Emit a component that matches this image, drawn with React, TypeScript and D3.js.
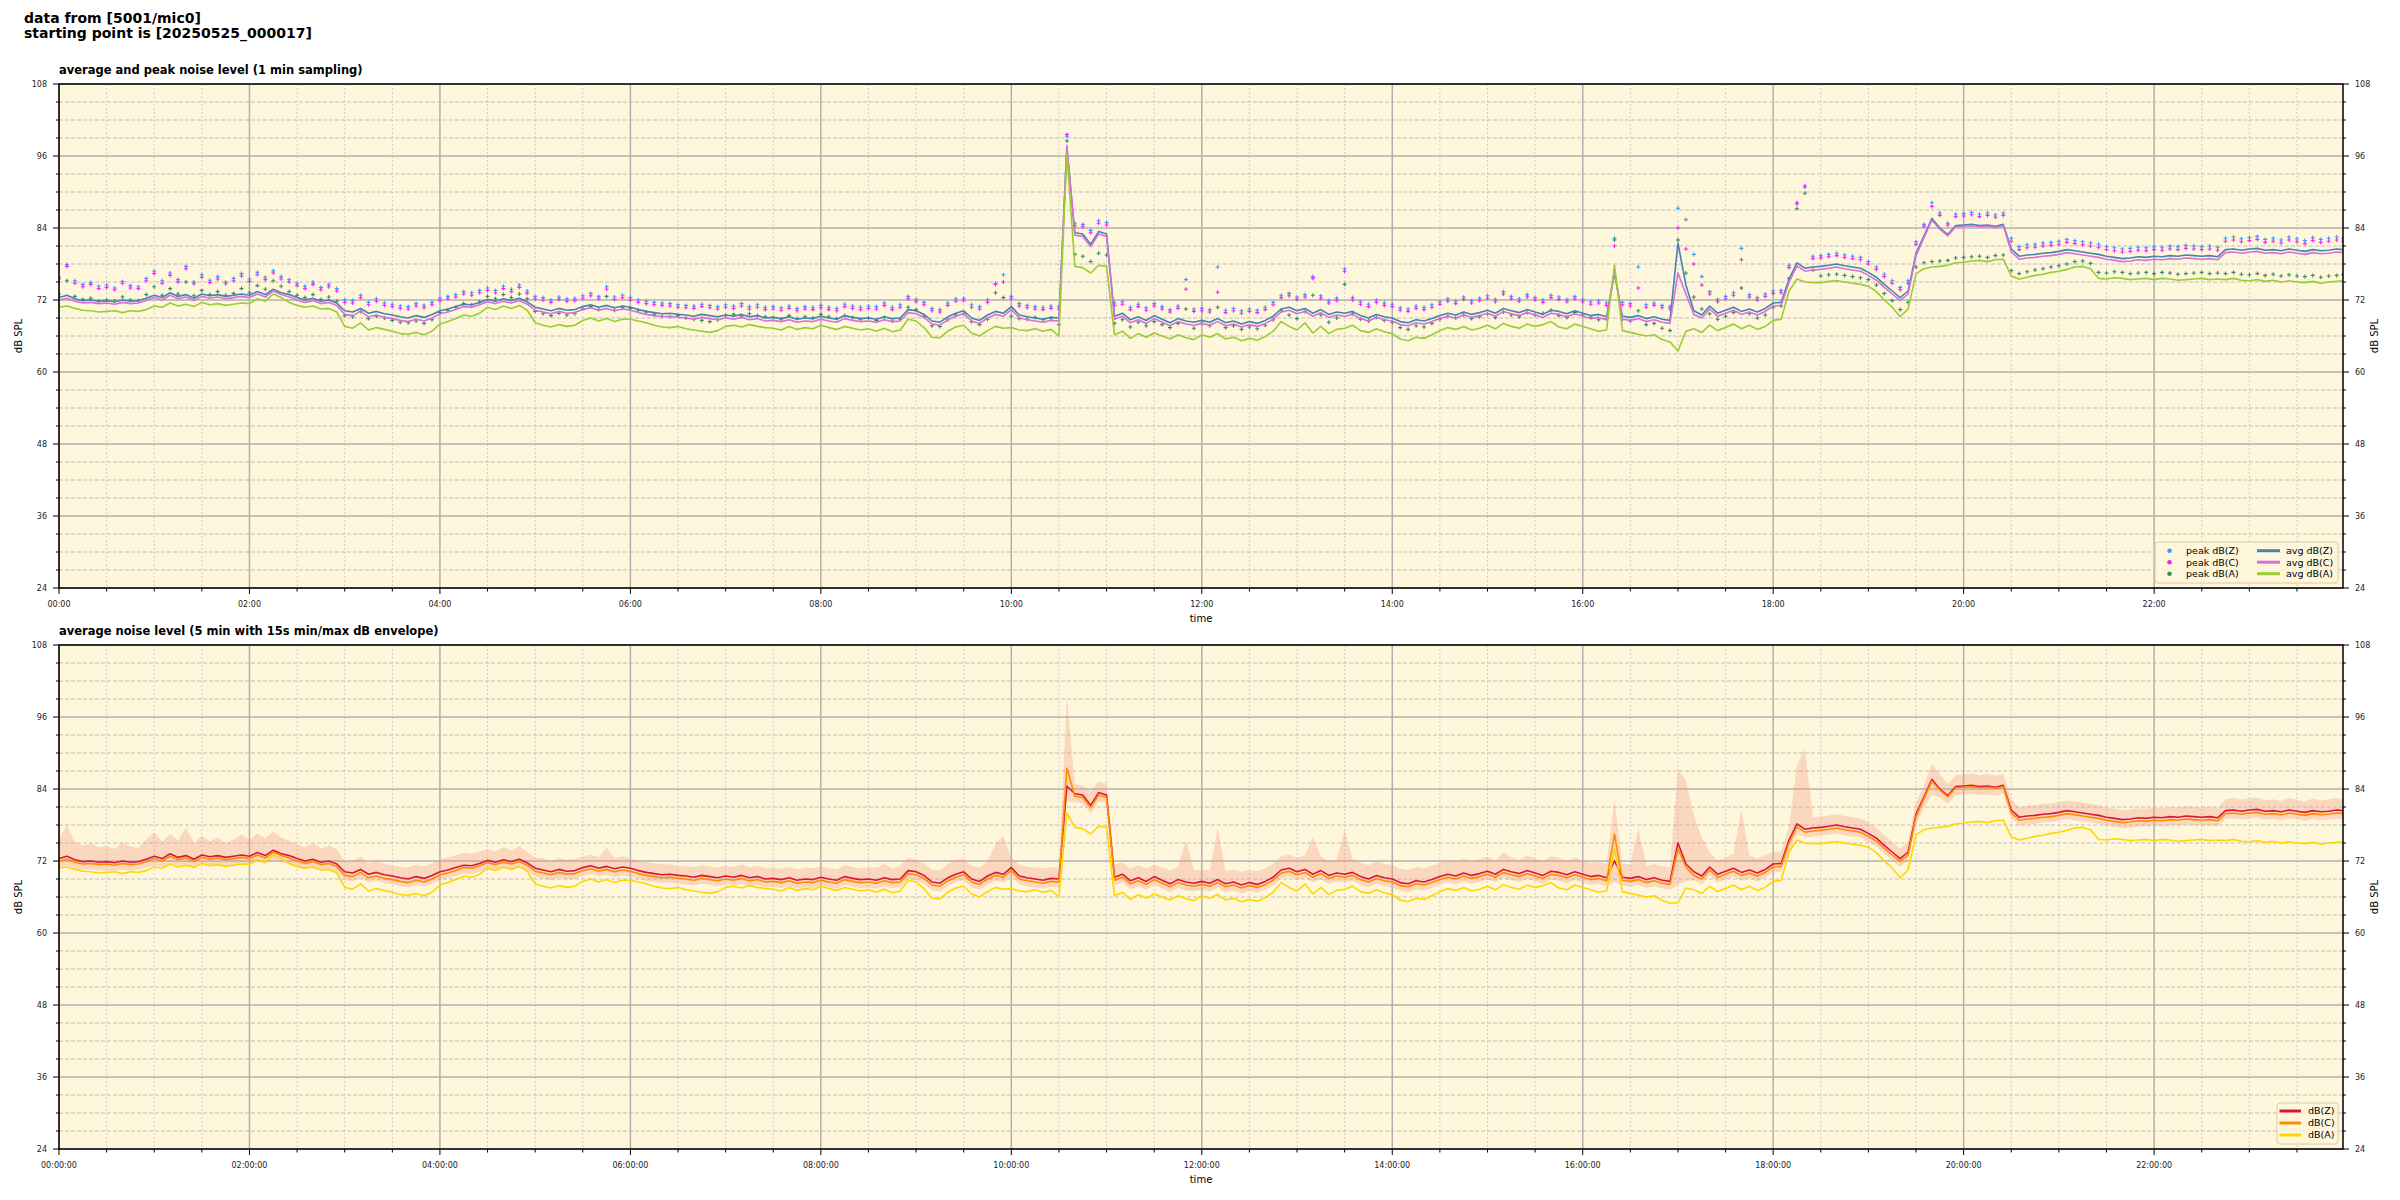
import React from 'react';
import * as d3 from 'd3';

// ---- data: 5-minute samples from 00:00 to 23:55, plus a final sample at 23:59 ----
const avgZ = [
72.4,72.8,72.2,71.9,72.0,71.8, 71.9,71.7,72.0,71.8,71.9,72.3,
72.8,72.4,73.2,72.6,72.9,72.3, 73.0,72.7,72.9,72.6,72.8,73.0,
72.8,73.4,72.9,73.8,73.2,72.9, 72.4,72.0,72.3,71.8,72.0,71.5,
70.2,70.0,70.6,69.8,70.1,69.7, 69.5,69.2,69.0,69.4,69.1,69.6,
70.2,70.5,70.9,71.3,71.2,71.6, 72.1,71.8,72.2,71.9,72.3,71.7,
70.8,70.5,70.2,70.6,70.3,70.4, 70.9,71.2,70.8,71.1,70.7,71.0,
70.8,70.4,70.1,69.9,69.7,69.8, 69.6,69.5,69.3,69.6,69.4,69.2,
69.5,69.3,69.6,69.2,69.4,69.0, 69.1,68.9,69.2,68.8,69.0,68.9,
69.3,69.0,68.8,69.4,69.1,68.9, 69.0,68.8,69.2,68.9,69.0,70.4,
70.2,69.6,68.5,68.3,69.2,69.8, 70.2,69.0,68.6,69.5,70.1,69.8,
70.9,69.5,69.2,69.0,68.8,69.1, 69.0,97.5,83.2,83.0,81.3,83.4,
83.0,69.3,69.8,68.7,69.2,68.6, 69.4,68.8,68.2,68.9,68.5,68.3,
68.6,68.3,68.9,68.2,68.5,68.0, 68.4,68.1,68.6,69.3,70.5,70.8,
70.2,70.6,69.8,70.4,69.6,70.0, 69.8,70.1,69.4,69.0,69.6,69.2,
69.0,68.4,68.2,68.7,68.5,68.9, 69.4,69.8,69.5,70.0,69.6,69.9,
70.3,69.8,70.6,70.2,69.9,70.4, 70.0,69.6,70.3,70.1,69.7,70.2,
69.8,69.4,69.6,69.2,76.5,69.3, 69.1,69.4,68.9,69.2,68.8,68.6,
81.5,74.5,70.2,69.5,71.0,69.8, 70.3,70.8,70.1,70.5,70.0,70.6,
71.5,71.6,75.5,78.2,77.3,77.5, 77.6,77.8,78.0,77.7,77.5,77.3,
76.6,75.8,74.6,73.5,72.4,73.5, 79.8,82.7,85.6,84.0,82.9,84.4,
84.5,84.6,84.4,84.5,84.3,84.6, 80.5,79.3,79.5,79.6,79.8,79.9,
80.1,80.4,80.2,80.0,79.8,79.6, 79.3,79.1,78.9,79.0,79.2,79.1,
79.3,79.2,79.4,79.3,79.5,79.4, 79.3,79.4,79.2,80.4,80.5,80.3,
80.5,80.6,80.3,80.4,80.2,80.5, 80.3,80.1,80.4,80.2,80.3,80.5,
80.4,
];

const avgC = [
72.0,72.3,71.8,71.5,71.6,71.4, 71.5,71.3,71.6,71.4,71.5,71.9,
72.4,72.0,72.8,72.2,72.5,71.9, 72.6,72.3,72.5,72.2,72.4,72.6,
72.4,73.0,72.5,73.5,72.9,72.5, 72.0,71.6,71.9,71.4,71.6,71.1,
69.6,69.4,70.1,69.2,69.5,69.1, 68.9,68.6,68.4,68.8,68.5,69.0,
69.7,70.0,70.4,70.9,70.8,71.2, 71.7,71.4,71.8,71.5,71.9,71.3,
70.3,70.0,69.7,70.1,69.8,69.9, 70.4,70.7,70.3,70.6,70.2,70.5,
70.3,69.9,69.6,69.4,69.2,69.3, 69.1,69.0,68.8,69.1,68.9,68.7,
69.0,68.8,69.1,68.7,68.9,68.5, 68.6,68.4,68.7,68.3,68.5,68.4,
68.8,68.5,68.3,68.9,68.6,68.4, 68.5,68.3,68.7,68.4,68.5,69.9,
69.7,69.1,68.0,67.8,68.7,69.3, 69.7,68.5,68.1,69.0,69.6,69.3,
70.4,69.0,68.7,68.5,68.3,68.6, 68.5,97.8,82.8,82.6,80.9,83.0,
82.6,68.8,69.3,68.2,68.7,68.1, 68.9,68.3,67.7,68.4,68.0,67.8,
68.1,67.8,68.4,67.7,68.0,67.5, 67.9,67.6,68.1,68.8,70.0,70.3,
69.7,70.1,69.3,69.9,69.1,69.5, 69.3,69.6,68.9,68.5,69.1,68.7,
68.5,67.9,67.7,68.2,68.0,68.4, 68.9,69.3,69.0,69.5,69.1,69.4,
69.8,69.3,70.1,69.7,69.4,69.9, 69.5,69.1,69.8,69.6,69.2,69.7,
69.3,68.9,69.1,68.7,77.0,68.8, 68.6,68.9,68.4,68.7,68.3,68.1,
76.5,73.0,69.6,69.0,70.5,69.3, 69.8,70.3,69.6,70.0,69.5,70.1,
71.0,71.1,75.0,77.7,76.8,77.0, 77.1,77.3,77.5,77.2,77.0,76.8,
76.1,75.3,74.1,73.0,71.9,73.0, 79.4,82.4,85.3,83.8,82.7,84.2,
84.3,84.4,84.2,84.3,84.1,84.4, 80.0,78.8,79.0,79.1,79.3,79.4,
79.6,79.9,79.7,79.5,79.3,79.1, 78.8,78.6,78.4,78.5,78.7,78.6,
78.8,78.7,78.9,78.8,79.0,78.9, 78.8,78.9,78.7,79.9,80.0,79.8,
80.0,80.1,79.8,79.9,79.7,80.0, 79.8,79.6,79.9,79.7,79.8,80.0,
79.9,
];

const avgA = [
70.8,71.0,70.6,70.3,70.2,70.0, 70.1,70.2,69.9,70.2,70.1,70.4,
71.0,70.8,71.5,71.0,71.3,70.9, 71.6,71.2,71.4,71.1,71.3,71.5,
71.4,72.2,71.8,73.0,72.4,71.6, 71.1,70.8,71.0,70.5,70.6,70.0,
67.6,67.3,68.2,67.0,67.4,67.1, 66.8,66.4,66.3,66.6,66.2,66.8,
68.0,68.4,68.9,69.5,69.3,69.8, 70.8,70.4,71.0,70.6,71.1,70.3,
68.2,67.8,67.5,67.9,67.6,67.8, 68.6,69.0,68.5,68.9,68.4,68.8,
68.8,68.5,68.2,67.8,67.5,67.4, 67.6,67.2,67.0,66.8,66.6,66.9,
67.6,67.8,67.5,67.9,67.6,67.4, 67.3,67.0,67.6,67.1,67.4,67.2,
67.8,67.4,67.1,67.6,67.3,67.0, 67.2,66.8,67.3,66.7,67.0,68.8,
68.5,67.4,65.8,65.7,66.8,67.5, 67.8,66.5,66.0,66.9,67.6,67.3,
67.4,67.0,66.9,67.2,66.8,67.1, 66.0,96.5,77.6,77.4,76.5,77.8,
77.6,66.2,66.8,65.6,66.4,65.8, 66.5,66.0,65.5,66.2,65.7,65.4,
66.2,65.8,66.4,65.5,65.8,65.2, 65.6,65.3,65.9,66.8,68.4,67.6,
67.0,68.2,66.5,67.6,66.4,67.1, 67.3,67.8,66.9,66.6,67.2,66.7,
66.4,65.5,65.2,65.8,65.6,66.2, 66.9,67.4,67.1,67.6,67.0,67.3,
67.8,67.2,68.1,67.6,67.3,68.0, 67.6,67.9,68.4,67.5,67.2,68.0,
67.6,67.2,66.8,67.0,77.8,66.9, 66.6,66.3,66.0,66.2,65.4,65.0,
63.5,66.8,67.2,66.6,67.8,66.9, 67.4,68.0,67.2,67.8,67.1,67.6,
68.6,68.8,73.5,75.5,75.0,74.9, 74.9,75.1,75.2,75.0,74.8,74.6,
74.3,73.4,72.0,70.8,69.2,70.5, 76.4,77.2,77.5,77.6,77.8,78.2,
78.3,78.5,78.6,78.4,78.7,78.8, 76.0,75.5,75.8,76.1,76.3,76.6,
76.8,77.1,77.5,77.6,77.2,75.6, 75.5,75.7,75.6,75.4,75.5,75.6,
75.4,75.6,75.5,75.3,75.4,75.5, 75.6,75.4,75.5,75.4,75.6,75.3,
75.2,75.4,75.1,75.3,75.0,75.2, 75.0,74.9,75.1,74.8,75.0,75.1,
75.2,
];

const peakZ = [
75.8,77.9,75.2,74.6,74.9,74.3, 74.5,74.0,75.1,74.4,74.2,75.6,
76.8,75.2,76.5,75.4,77.6,75.0, 76.2,75.3,75.9,75.0,75.6,76.4,
75.5,76.6,75.8,76.9,75.9,75.4, 74.8,74.3,75.0,74.1,74.6,73.9,
72.0,71.9,72.8,71.6,72.2,71.5, 71.3,71.0,70.9,71.4,71.1,71.6,
72.3,72.6,72.9,73.4,73.2,73.6, 74.0,73.6,74.3,73.8,74.5,73.5,
72.6,72.4,72.0,72.5,72.2,72.3, 72.7,73.1,72.6,74.2,72.5,72.8,
72.4,72.0,71.8,71.6,71.5,71.4, 71.2,71.1,71.0,71.3,71.1,70.9,
71.2,71.0,71.4,70.9,71.2,70.8, 70.9,70.7,71.0,70.6,70.9,70.8,
71.1,70.8,70.6,71.3,71.0,70.8, 71.0,70.9,71.5,70.8,71.2,72.6,
72.1,71.6,70.6,70.4,71.5,72.2, 72.3,71.2,70.9,72.0,74.8,76.2,
72.6,71.4,71.1,70.9,70.8,71.0, 70.9,99.3,84.8,84.6,83.6,85.2,
84.9,71.5,71.7,70.8,71.3,70.7, 71.4,70.9,70.4,71.0,75.4,70.5,
70.6,70.4,77.5,70.3,70.6,70.2, 70.5,70.3,70.8,71.6,72.8,73.1,
72.5,72.9,75.9,72.7,71.9,72.3, 77.2,72.4,71.7,71.3,72.0,71.5,
71.3,70.7,70.5,71.0,70.8,71.2, 71.7,72.2,71.8,72.5,71.9,72.3,
72.7,72.1,73.4,72.6,72.2,72.9, 72.4,72.0,72.8,72.5,72.1,72.6,
72.1,71.7,71.9,71.5,82.3,71.6, 71.4,77.5,71.2,71.5,71.1,70.9,
87.3,85.4,79.6,75.9,73.4,72.1, 72.6,73.2,80.6,72.9,72.4,73.0,
73.5,73.6,77.8,88.0,90.8,79.3, 79.4,79.6,79.8,79.5,79.3,79.1,
78.4,77.5,76.3,75.2,74.1,75.2, 81.7,84.6,88.2,86.5,84.8,86.3,
86.4,86.6,86.3,86.5,86.2,86.5, 82.3,80.9,81.2,81.3,81.5,81.6,
81.8,82.1,81.9,81.7,81.5,81.3, 80.9,80.7,80.5,80.6,80.8,80.7,
80.9,80.8,81.0,80.9,81.1,81.0, 80.9,81.0,80.8,82.3,82.5,82.2,
82.4,82.6,82.1,82.3,82.0,82.5, 82.2,81.9,82.4,82.1,82.3,82.5,
82.3,
];

const peakC = [
75.5,77.6,74.8,74.2,74.6,73.9, 74.1,73.7,74.8,74.0,73.9,75.2,
76.4,74.8,76.1,75.0,77.2,74.7, 75.8,74.9,75.5,74.7,75.2,76.0,
75.1,76.2,75.4,76.5,75.5,75.0, 74.4,73.9,74.6,73.7,74.2,73.5,
71.6,71.5,72.4,71.2,71.8,71.1, 70.9,70.6,70.5,71.0,70.7,71.2,
71.9,72.2,72.5,73.0,72.8,73.2, 73.6,73.2,73.9,73.4,74.1,73.1,
72.2,72.0,71.6,72.1,71.8,71.9, 72.3,72.7,72.2,73.8,72.1,72.4,
72.0,71.6,71.4,71.2,71.1,71.0, 70.8,70.7,70.6,70.9,70.7,70.5,
70.8,70.6,71.0,70.5,70.8,70.4, 70.5,70.3,70.6,70.2,70.5,70.4,
70.7,70.4,70.2,70.9,70.6,70.4, 70.6,70.5,71.1,70.4,70.8,72.2,
71.7,71.2,70.2,70.0,71.1,71.8, 71.9,70.8,70.5,71.6,74.6,75.0,
72.2,71.0,70.7,70.5,70.4,70.6, 70.5,99.6,84.4,84.2,83.2,84.8,
84.5,71.1,71.3,70.4,70.9,70.3, 71.0,70.5,70.0,70.6,73.8,70.1,
70.2,70.0,73.3,69.9,70.2,69.8, 70.1,69.9,70.4,71.2,72.4,72.7,
72.1,72.5,75.6,72.3,71.5,71.9, 76.8,72.0,71.3,70.9,71.6,71.1,
70.9,70.3,70.1,70.6,70.4,70.8, 71.3,71.8,71.4,72.1,71.5,71.9,
72.3,71.7,73.0,72.2,71.8,72.5, 72.0,71.6,72.4,72.1,71.7,72.2,
71.7,71.3,71.5,71.1,81.0,71.2, 71.0,74.0,70.8,71.1,70.7,70.5,
84.0,80.5,78.0,74.5,73.0,71.7, 72.2,72.8,78.7,72.5,72.0,72.6,
73.1,73.2,77.4,88.2,91.0,78.9, 79.0,79.2,79.4,79.1,78.9,78.7,
78.0,77.1,75.9,74.8,73.7,74.8, 81.3,84.3,87.6,86.1,84.5,85.9,
86.0,86.2,85.9,86.1,85.8,86.1, 81.8,80.4,80.7,80.8,81.0,81.1,
81.3,81.6,81.4,81.2,81.0,80.8, 80.4,80.2,80.0,80.1,80.3,80.2,
80.4,80.3,80.5,80.4,80.6,80.5, 80.4,80.5,80.3,81.8,82.0,81.7,
81.9,82.1,81.6,81.8,81.5,82.0, 81.7,81.4,81.9,81.6,81.8,82.0,
81.8,
];

const peakA = [
73.0,75.2,72.6,72.1,72.3,71.8, 72.0,71.8,72.5,72.0,71.9,72.9,
74.2,72.8,73.9,73.0,75.0,72.7, 73.6,72.9,73.4,72.8,73.1,73.9,
73.2,74.4,73.8,75.2,74.3,73.4, 72.8,72.4,72.9,72.1,72.5,71.8,
69.4,69.2,70.1,68.9,69.3,69.0, 68.6,68.3,68.2,68.5,68.1,68.7,
69.9,70.3,70.8,71.4,71.2,71.7, 72.6,72.2,72.9,72.4,73.0,72.2,
70.1,69.7,69.4,69.8,69.5,69.7, 70.5,70.9,70.4,72.6,70.3,70.7,
70.6,70.3,70.0,69.6,69.3,69.2, 69.4,69.0,68.8,68.6,68.4,68.7,
69.4,69.6,69.3,69.7,69.4,69.2, 69.1,68.8,69.4,68.9,69.2,69.0,
69.6,69.2,68.9,69.4,69.1,68.8, 69.0,68.6,69.1,68.5,68.8,70.8,
70.4,69.3,67.7,67.6,68.7,69.5, 69.7,68.4,67.9,68.8,73.2,72.4,
69.3,68.9,68.8,69.1,68.7,69.0, 67.9,98.5,79.6,79.3,78.4,79.8,
79.5,68.1,68.7,67.5,68.3,67.7, 68.4,67.9,67.4,68.1,70.5,67.3,
68.1,67.7,70.8,67.4,67.7,67.1, 67.5,67.2,67.8,68.7,70.3,69.5,
68.9,70.1,72.8,69.5,68.3,69.0, 74.6,69.7,68.8,68.5,69.1,68.6,
68.3,67.4,67.1,67.7,67.5,68.1, 68.8,69.3,69.0,69.5,68.9,69.2,
69.7,69.1,70.0,69.5,69.2,69.9, 69.5,69.8,70.3,69.4,69.1,69.9,
69.5,69.1,68.7,68.9,82.0,68.8, 68.5,70.2,67.9,68.1,67.3,66.9,
82.0,76.5,72.5,70.5,69.7,68.8, 69.3,69.9,74.0,69.7,69.0,69.5,
70.8,71.0,75.6,87.2,89.8,77.0, 76.0,76.2,76.3,76.1,75.9,75.7,
75.4,74.5,73.1,71.9,70.4,71.6, 77.5,78.2,78.4,78.5,78.6,79.0,
79.1,79.2,79.3,79.1,79.4,79.5, 76.9,76.4,76.7,77.0,77.2,77.5,
77.7,78.0,78.4,78.5,78.1,76.6, 76.5,76.7,76.6,76.4,76.5,76.6,
76.4,76.6,76.5,76.3,76.4,76.5, 76.6,76.4,76.5,76.4,76.6,76.3,
76.2,76.4,76.1,76.3,76.0,76.2, 76.0,75.9,76.1,75.8,76.0,76.1,
76.2,
];

// 15 s minimum of dB(Z) (lower edge of the envelope in the 5-min panel)
const envLo = [
70.9,71.2,70.8,70.5,70.6,70.4, 70.5,70.3,70.6,70.4,70.5,70.9,
71.3,71.0,71.7,71.2,71.4,70.9, 71.6,71.3,71.5,71.2,71.4,71.6,
71.4,71.9,71.5,72.3,71.8,71.5, 71.0,70.7,70.9,70.4,70.6,70.1,
68.8,68.6,69.2,68.4,68.7,68.3, 68.1,67.8,67.6,68.0,67.7,68.2,
68.8,69.1,69.5,69.9,69.8,70.2, 70.7,70.4,70.8,70.5,70.9,70.3,
69.4,69.1,68.8,69.2,68.9,69.0, 69.5,69.8,69.4,69.7,69.3,69.6,
69.4,69.0,68.7,68.5,68.3,68.4, 68.2,68.1,67.9,68.2,68.0,67.8,
68.1,67.9,68.2,67.8,68.0,67.6, 67.7,67.5,67.8,67.4,67.6,67.5,
67.9,67.6,67.4,68.0,67.7,67.5, 67.6,67.4,67.8,67.5,67.6,69.0,
68.8,68.2,67.1,66.9,67.8,68.4, 68.8,67.6,67.2,68.1,68.7,68.4,
69.5,68.1,67.8,67.6,67.4,67.7, 67.6,82.0,81.8,81.6,79.9,82.0,
81.6,67.9,68.4,67.3,67.8,67.2, 68.0,67.4,66.8,67.5,67.1,66.9,
67.2,66.9,67.5,66.8,67.1,66.6, 67.0,66.7,67.2,67.9,69.1,69.4,
68.8,69.2,68.4,69.0,68.2,68.6, 68.4,68.7,68.0,67.6,68.2,67.8,
67.6,67.0,66.8,67.3,67.1,67.5, 68.0,68.4,68.1,68.6,68.2,68.5,
68.9,68.4,69.2,68.8,68.5,69.0, 68.6,68.2,68.9,68.7,68.3,68.8,
68.4,68.0,68.2,67.8,68.5,67.9, 67.7,68.0,67.5,67.8,67.4,67.2,
68.0,68.6,68.8,68.1,69.6,68.4, 68.9,69.4,68.7,69.1,68.6,69.2,
70.1,70.2,73.5,76.6,75.9,76.1, 76.2,76.4,76.6,76.3,76.1,75.9,
75.2,74.4,73.2,72.1,71.0,72.1, 78.0,81.0,83.0,82.6,81.5,83.0,
83.1,83.2,83.0,83.1,82.9,83.2, 79.1,77.9,78.1,78.2,78.4,78.5,
78.7,79.0,78.8,78.6,78.4,78.2, 77.9,77.7,77.5,77.6,77.8,77.7,
77.9,77.8,78.0,77.9,78.1,78.0, 77.9,78.0,77.8,79.0,79.1,78.9,
79.1,79.2,78.9,79.0,78.8,79.1, 78.9,78.7,79.0,78.8,78.9,79.1,
79.0,
];

// 5-min averaged lines differ from the 1-min ones only around short spikes
const spikeIdx5 = [127, 196, 204, 205];
const spikeZ5 = [84.5, 72.0, 75.0, 71.5];
const spikeC5 = [87.5, 76.5, 74.0, 71.0];
const spikeA5 = [80.0, 74.0, 65.0, 67.5];

const yMajorTicks = [24, 36, 48, 60, 72, 84, 96, 108];
const xMajorHours = [0, 2, 4, 6, 8, 10, 12, 14, 16, 18, 20, 22];

const topTitle = 'average and peak noise level (1 min sampling)';
const bottomTitle = 'average noise level (5 min with 15s min/max dB envelope)';

// ---- layout ----
const W = 2400, H = 1200;
const LEFT = 59, RIGHT = 2343;
const FONT = 'DejaVu Sans, Liberation Sans, sans-serif';
const FACE = '#fff7dc';

const minuteOf = (i: number) => Math.min(i * 5, 1439);
const pad2 = (n: number) => (n < 10 ? '0' : '') + n;

function withSpikes(base: number[], vals: number[]) {
  const out = base.slice();
  spikeIdx5.forEach((idx, k) => { out[idx] = vals[k]; });
  return out;
}

function Panel(props: {
  top: number; bottom: number; title: string; longTime: boolean;
  children: (x: d3.ScaleLinear<number, number>, y: d3.ScaleLinear<number, number>) => React.ReactNode;
  legend: React.ReactNode;
}) {
  const { top, bottom, title, longTime } = props;
  const x = d3.scaleLinear().domain([0, 1439]).range([LEFT, RIGHT]);
  const y = d3.scaleLinear().domain([24, 108]).range([bottom, top]);
  const yMinor = d3.range(24, 108.1, 3).filter((v) => v % 12 !== 0);
  const xMinor = d3.range(0, 1440, 30).filter((m) => m % 120 !== 0);
  const clipId = 'clip' + top;
  return (
    <g>
      <defs>
        <clipPath id={clipId}>
          <rect x={LEFT} y={top} width={RIGHT - LEFT} height={bottom - top} />
        </clipPath>
      </defs>
      <rect x={LEFT} y={top} width={RIGHT - LEFT} height={bottom - top} fill={FACE} />
      {xMinor.map((m) => (
        <line key={'xm' + m} x1={x(m)} x2={x(m)} y1={top} y2={bottom} stroke="#cfcfcf" strokeWidth={1} strokeDasharray="2 2" />
      ))}
      {yMinor.map((v) => (
        <line key={'ym' + v} x1={LEFT} x2={RIGHT} y1={y(v)} y2={y(v)} stroke="#bdbdbd" strokeWidth={1} strokeDasharray="4 2" />
      ))}
      {xMajorHours.map((h) => (
        <line key={'xM' + h} x1={x(h * 60)} x2={x(h * 60)} y1={top} y2={bottom} stroke="#b0b0b0" strokeWidth={1.5} />
      ))}
      {yMajorTicks.map((v) => (
        <line key={'yM' + v} x1={LEFT} x2={RIGHT} y1={y(v)} y2={y(v)} stroke="#b0b0b0" strokeWidth={1.5} />
      ))}
      <g clipPath={`url(#${clipId})`}>{props.children(x, y)}</g>
      <rect x={LEFT} y={top} width={RIGHT - LEFT} height={bottom - top} fill="none" stroke="#000" strokeWidth={1.5} />
      {yMajorTicks.map((v) => (
        <g key={'yt' + v}>
          <line x1={LEFT - 6} x2={LEFT} y1={y(v)} y2={y(v)} stroke="#000" strokeWidth={1} />
          <line x1={RIGHT} x2={RIGHT + 6} y1={y(v)} y2={y(v)} stroke="#000" strokeWidth={1} />
          <text x={LEFT - 12} y={y(v)} dy="0.32em" textAnchor="end" fontSize={8} fontFamily={FONT} fill="#222">{v}</text>
          <text x={RIGHT + 12} y={y(v)} dy="0.32em" textAnchor="start" fontSize={8} fontFamily={FONT} fill="#222">{v}</text>
        </g>
      ))}
      {yMinor.map((v) => (
        <g key={'ytm' + v}>
          <line x1={LEFT - 3} x2={LEFT} y1={y(v)} y2={y(v)} stroke="#000" strokeWidth={1} />
          <line x1={RIGHT} x2={RIGHT + 3} y1={y(v)} y2={y(v)} stroke="#000" strokeWidth={1} />
        </g>
      ))}
      {xMajorHours.map((h) => (
        <g key={'xt' + h}>
          <line x1={x(h * 60)} x2={x(h * 60)} y1={bottom} y2={bottom + 6} stroke="#000" strokeWidth={1} />
          <text x={x(h * 60)} y={bottom + 19} textAnchor="middle" fontSize={8} fontFamily={FONT} fill="#222">
            {pad2(h) + ':00' + (longTime ? ':00' : '')}
          </text>
        </g>
      ))}
      {xMinor.map((m) => (
        <line key={'xtm' + m} x1={x(m)} x2={x(m)} y1={bottom} y2={bottom + 3.5} stroke="#000" strokeWidth={1} />
      ))}
      <text x={(LEFT + RIGHT) / 2} y={bottom + 34} textAnchor="middle" fontSize={10} fontFamily={FONT}>time</text>
      <text transform={`translate(22,${(top + bottom) / 2}) rotate(-90)`} textAnchor="middle" fontSize={10} fontFamily={FONT}>dB SPL</text>
      <text transform={`translate(2378,${(top + bottom) / 2}) rotate(-90)`} textAnchor="middle" fontSize={10} fontFamily={FONT}>dB SPL</text>
      <text x={LEFT} y={top - 10} fontSize={11.5} fontWeight="bold" fontFamily={FONT}>{title}</text>
      {props.legend}
    </g>
  );
}

function plusPath(xs: number[], ys: number[]) {
  let p = '';
  for (let i = 0; i < xs.length; i++) {
    const a = xs[i], b = ys[i];
    p += `M${(a - 2).toFixed(1)},${b.toFixed(1)}h4M${a.toFixed(1)},${(b - 2).toFixed(1)}v4`;
  }
  return p;
}

export default function App() {
  React.useEffect(() => {
    document.body.style.margin = '0';
  }, []);

  const top1 = 84, bot1 = 588, top2 = 645, bot2 = 1149;

  const lineOf = (x: d3.ScaleLinear<number, number>, y: d3.ScaleLinear<number, number>, vals: number[]) =>
    d3.line<number>().x((_, i) => x(minuteOf(i))).y((v) => y(v))(vals) || '';

  const peaks = [
    { vals: peakZ, color: '#3a9cff' },
    { vals: peakC, color: '#ff1fff' },
    { vals: peakA, color: '#3a8c5c' },
  ];
  const avgs = [
    { vals: avgZ, color: '#4682b4' },
    { vals: avgC, color: '#da70d6' },
    { vals: avgA, color: '#9acd32' },
  ];

  const line5Z = withSpikes(avgZ, spikeZ5);
  const line5C = withSpikes(avgC, spikeC5);
  const line5A = withSpikes(avgA, spikeA5);

  const legend1 = (
    <g fontFamily={FONT} fontSize={9.5}>
      <rect x={2155} y={542} width={183} height={41} rx={3} fill="#fff7dc" fillOpacity={0.85} stroke="#dcc9a6" strokeWidth={1} />
      {[
        { t: 'peak dB(Z)', c: '#3a9cff' },
        { t: 'peak dB(C)', c: '#ff1fff' },
        { t: 'peak dB(A)', c: '#3a8c5c' },
      ].map((e, i) => (
        <g key={e.t}>
          <circle cx={2169.5} cy={550.7 + i * 11.5} r={2.3} fill={e.c} />
          <text x={2186} y={550.7 + i * 11.5} dy="0.35em">{e.t}</text>
        </g>
      ))}
      {[
        { t: 'avg dB(Z)', c: '#4682b4' },
        { t: 'avg dB(C)', c: '#da70d6' },
        { t: 'avg dB(A)', c: '#9acd32' },
      ].map((e, i) => (
        <g key={e.t}>
          <line x1={2257} x2={2280} y1={550.7 + i * 11.5} y2={550.7 + i * 11.5} stroke={e.c} strokeWidth={3} />
          <text x={2286} y={550.7 + i * 11.5} dy="0.35em">{e.t}</text>
        </g>
      ))}
    </g>
  );

  const legend2 = (
    <g fontFamily={FONT} fontSize={9.5}>
      <rect x={2277} y={1103} width={61} height={41} rx={3} fill="#fff7dc" fillOpacity={0.85} stroke="#dcc9a6" strokeWidth={1} />
      {[
        { t: 'dB(Z)', c: '#dc143c' },
        { t: 'dB(C)', c: '#ff8c00' },
        { t: 'dB(A)', c: '#ffd700' },
      ].map((e, i) => (
        <g key={e.t}>
          <line x1={2279.5} x2={2301} y1={1111 + i * 12} y2={1111 + i * 12} stroke={e.c} strokeWidth={3} />
          <text x={2308} y={1111 + i * 12} dy="0.35em">{e.t}</text>
        </g>
      ))}
    </g>
  );

  return (
    <svg width={W} height={H} viewBox={`0 0 ${W} ${H}`} style={{ position: 'absolute', left: 0, top: 0, background: '#fff' }}>
      <rect x={0} y={0} width={W} height={H} fill="#fff" />
      <text x={24} y={23} fontSize={14} fontWeight="bold" fontFamily={FONT}>data from [5001/mic0]</text>
      <text x={24} y={38} fontSize={14} fontWeight="bold" fontFamily={FONT}>starting point is [20250525_000017]</text>

      <Panel top={top1} bottom={bot1} title={topTitle} longTime={false} legend={legend1}>
        {(x, y) => (
          <g>
            {peaks.map((p, k) => (
              <path key={'pk' + k}
                d={plusPath(p.vals.map((_, i) => x(minuteOf(i))), p.vals.map((v) => y(v)))}
                stroke={p.color} strokeWidth={1.1} fill="none" />
            ))}
            {avgs.map((a, k) => (
              <path key={'av' + k} d={lineOf(x, y, a.vals)} stroke={a.color} strokeWidth={1.6} fill="none" strokeLinejoin="round" />
            ))}
          </g>
        )}
      </Panel>

      <Panel top={top2} bottom={bot2} title={bottomTitle} longTime={true} legend={legend2}>
        {(x, y) => {
          const area = d3.area<number>()
            .x((_, i) => x(minuteOf(i)))
            .y0((_, i) => y(envLo[i]))
            .y1((v) => y(v))(peakZ) || '';
          return (
            <g>
              <path d={area} fill="#f29a84" fillOpacity={0.35} stroke="none" />
              <path d={lineOf(x, y, line5Z)} stroke="#dc143c" strokeWidth={1.6} fill="none" strokeLinejoin="round" />
              <path d={lineOf(x, y, line5C)} stroke="#ff8c00" strokeWidth={1.6} fill="none" strokeLinejoin="round" />
              <path d={lineOf(x, y, line5A)} stroke="#ffd700" strokeWidth={1.6} fill="none" strokeLinejoin="round" />
            </g>
          );
        }}
      </Panel>
    </svg>
  );
}
